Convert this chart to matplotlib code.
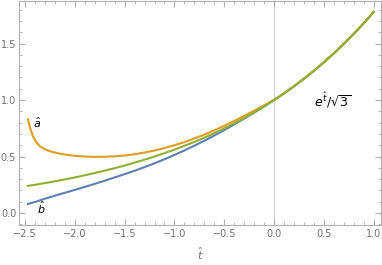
import matplotlib.pyplot as plt
from matplotlib.ticker import MultipleLocator

# valores
t_vals = [-2.47, -2.45, -2.42, -2.39, -2.35, -2.3, -2.25, -2.2, -2.1, -2.0,
          -1.9, -1.8, -1.7, -1.6, -1.5, -1.4, -1.3, -1.2, -1.1, -1.0,
          -0.9, -0.8, -0.7, -0.6, -0.5, -0.4, -0.3, -0.2, -0.1, 0.0,
          0.1, 0.2, 0.3, 0.4, 0.5, 0.6, 0.7, 0.8, 0.9, 1.0]
b_vals = [0.080, 0.085, 0.093, 0.100, 0.112, 0.126, 0.140, 0.153, 0.179, 0.205,
          0.231, 0.258, 0.286, 0.315, 0.344, 0.374, 0.406, 0.440, 0.476, 0.514,
          0.554, 0.596, 0.640, 0.686, 0.734, 0.784, 0.836, 0.889, 0.943, 0.999,
          1.058, 1.121, 1.188, 1.259, 1.334, 1.413, 1.497, 1.586, 1.680, 1.780]
a_vals = [0.830, 0.755, 0.680, 0.630, 0.590, 0.565, 0.547, 0.535, 0.517, 0.506,
          0.500, 0.497, 0.498, 0.502, 0.509, 0.520, 0.535, 0.553, 0.575, 0.600,
          0.628, 0.660, 0.694, 0.732, 0.772, 0.815, 0.860, 0.906, 0.953, 1.002,
          1.060, 1.123, 1.190, 1.260, 1.335, 1.414, 1.498, 1.587, 1.681, 1.781]
g_vals = [0.240, 0.243, 0.247, 0.251, 0.257, 0.265, 0.272, 0.281, 0.297, 0.315,
          0.334, 0.354, 0.375, 0.397, 0.420, 0.446, 0.472, 0.500, 0.530, 0.561,
          0.595, 0.630, 0.667, 0.707, 0.749, 0.794, 0.841, 0.891, 0.944, 1.000,
          1.059, 1.122, 1.189, 1.260, 1.335, 1.414, 1.498, 1.587, 1.681, 1.781]

fig = plt.figure(figsize=(3.82, 2.65), dpi=100)
ax = fig.add_axes([0.0497, 0.151, 0.947, 0.845])

ax.axvline(0, color='#d4d4d4', lw=0.8, zorder=0)

ax.plot(t_vals, b_vals, color='#5E81B5', lw=1.5)
ax.plot(t_vals, a_vals, color='#E19C24', lw=1.5)
ax.plot(t_vals, g_vals, color='#8FB032', lw=1.5)

# rotulos das curvas
ax.text(-2.38, 0.80, r'$\hat{a}$', fontsize=8, ha='center', va='center')
ax.text(-2.34, 0.05, r'$\hat{b}$', fontsize=8, ha='center', va='center')
ax.text(0.59, 1.0, r'$e^{\hat{t}}/\sqrt{3}$', fontsize=9, ha='center', va='center')

ax.set_xlim(-2.56, 1.07)
ax.set_ylim(-0.106, 1.876)
ax.xaxis.set_major_locator(MultipleLocator(0.5))
ax.xaxis.set_minor_locator(MultipleLocator(0.1))
ax.yaxis.set_major_locator(MultipleLocator(0.5))
ax.yaxis.set_minor_locator(MultipleLocator(0.1))
ax.xaxis.set_major_formatter(lambda v, p: f"{v:.1f}".replace('-', '\u2212'))
ax.yaxis.set_major_formatter(lambda v, p: f"{v:.1f}")

for s in ax.spines.values():
    s.set_color('#b0b0b0')
    s.set_linewidth(0.8)
ax.tick_params(which='both', direction='in', top=True, right=True,
               color='#b0b0b0', labelcolor='#707070', labelsize=7, pad=3)
ax.tick_params(which='major', length=4, width=0.8)
ax.tick_params(which='minor', length=2, width=0.6)
ax.tick_params(axis='x', labeltop=False)
ax.tick_params(axis='y', labelright=False, pad=2)

ax.set_xlabel(r'$\hat{t}$', fontsize=8, color='#707070', labelpad=5)

fig.savefig('out.png', dpi=100, facecolor='white')
